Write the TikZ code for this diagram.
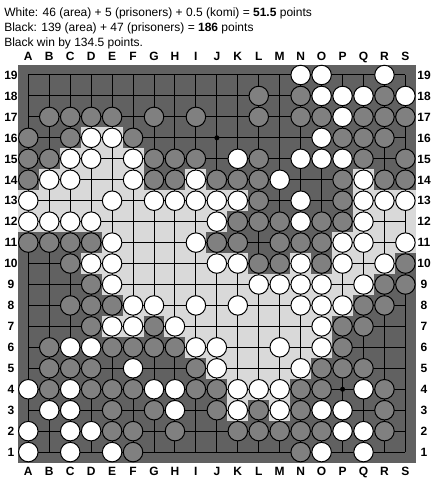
\documentclass[tikz,border=0pt]{standalone}
\usepackage{fontspec}
\setmainfont{Liberation Sans}
\definecolor{boardc}{RGB}{97,97,97}
\definecolor{terrW}{RGB}{217,217,217}
\definecolor{stoneB}{RGB}{128,128,128}
\begin{document}
\begin{tikzpicture}[x=0.75pt,y=-0.75pt,
  lbl/.style={font=\fontsize{9}{11}\selectfont\bfseries, inner sep=0pt, anchor=base},
  txt/.style={font=\fontsize{9}{11}\selectfont, inner sep=0pt, anchor=base west},
  wst/.style={draw=black, line width=0.75pt, fill=white},
  bst/.style={draw=black, line width=0.75pt, fill=stoneB},
  gridl/.style={draw=black, line width=0.75pt}]
\useasboundingbox[fill=white] (0,0) rectangle (434,484);
\node[txt] (t1) at (4,16.3) {White: 46 (area) + 5 (prisoners) + 0.5 (komi) = \textbf{51.5} points};
\node[txt] (t2) at (4,31.3) {Black: 139 (area) + 47 (prisoners) = \textbf{186} points};
\node[txt] (t3) at (4,46.3) {Black win by 134.5 points.};
\begin{scope}[shift={(7.35,473.05)}, x=15.7125pt, y=15.7125pt]
  \fill[boardc] (0.5,0.5) rectangle (19.5,19.5);
  \foreach \r/\a/\b in {16/4/5, 15/3/6, 14/2/6, 14/9/9, 14/17/17, 13/1/11, 13/17/19,
      12/1/10, 12/17/19, 11/5/9, 11/16/19, 10/4/11, 10/14/14, 10/16/18, 9/5/17,
      8/6/16, 7/5/6, 7/8/15, 6/9/15, 5/10/14, 4/11/13, 3/11/11, 3/13/13}
    \fill[terrW] (\a-0.5,\r-0.5) rectangle (\b+0.5,\r+0.5);
  \foreach \i in {1,...,19} {
    \draw[gridl] (1,\i) -- (19,\i);
    \draw[gridl] (\i,1) -- (\i,19);
  }
  \fill[black] (10,16) circle[radius=0.12];
  \fill[black] (16,4) circle[radius=0.12];
  \foreach \c/\r in {14/19,15/19,18/19,
    15/18,16/18,17/18,19/18,
    16/17,
    4/16,5/16,15/16,
    3/15,4/15,6/15,11/15,14/15,15/15,16/15,
    2/14,3/14,6/14,9/14,13/14,17/14,
    1/13,5/13,7/13,8/13,9/13,10/13,11/13,14/13,17/13,18/13,19/13,
    1/12,2/12,3/12,4/12,10/12,14/12,17/12,
    5/11,9/11,16/11,17/11,19/11,
    4/10,5/10,10/10,11/10,14/10,16/10,18/10,
    5/9,12/9,13/9,14/9,15/9,17/9,
    6/8,7/8,9/8,11/8,14/8,15/8,16/8,
    5/7,6/7,8/7,15/7,
    3/6,4/6,9/6,10/6,13/6,15/6,
    6/5,10/5,14/5,
    1/4,3/4,7/4,8/4,11/4,12/4,13/4,17/4,
    2/3,3/3,8/3,11/3,13/3,15/3,16/3,
    1/2,3/2,4/2,16/2,17/2,
    1/1,3/1,5/1,15/1,17/1}
    \path[wst] (\c,\r) circle[radius=0.465];
  \foreach \c/\r in {12/18,14/18,18/18,
    2/17,3/17,4/17,5/17,7/17,9/17,12/17,14/17,15/17,17/17,18/17,19/17,
    1/16,3/16,6/16,16/16,17/16,18/16,
    1/15,2/15,7/15,8/15,9/15,12/15,17/15,19/15,
    1/14,7/14,8/14,10/14,11/14,12/14,16/14,18/14,19/14,
    12/13,16/13,
    11/12,12/12,13/12,15/12,16/12,
    1/11,2/11,3/11,4/11,10/11,11/11,13/11,14/11,15/11,
    3/10,12/10,13/10,15/10,19/10,
    4/9,18/9,19/9,
    3/8,4/8,5/8,17/8,18/8,
    4/7,7/7,16/7,17/7,
    2/6,5/6,6/6,7/6,8/6,16/6,
    2/5,3/5,4/5,9/5,15/5,16/5,17/5,
    2/4,4/4,5/4,6/4,9/4,10/4,14/4,15/4,18/4,
    5/3,7/3,10/3,12/3,14/3,18/3,
    5/2,6/2,8/2,11/2,12/2,13/2,14/2,15/2,18/2,
    6/1,14/1}
    \path[bst] (\c,\r) circle[radius=0.465];
  \foreach \L [count=\c] in {A,B,C,D,E,F,G,H,I,J,K,L,M,N,O,P,Q,R,S} {
    \node[lbl] (ct\c) at (\c,19.70) {\L};
    \node[lbl] (cb\c) at (\c,-0.107) {\L};
  }
  \foreach \r in {1,...,19} {
    \node[lbl] (rl\r) at (0.174,\r-0.205) {\r};
    \node[lbl] (rr\r) at (19.89,\r-0.205) {\r};
  }
\end{scope}
\end{tikzpicture}
\end{document}
